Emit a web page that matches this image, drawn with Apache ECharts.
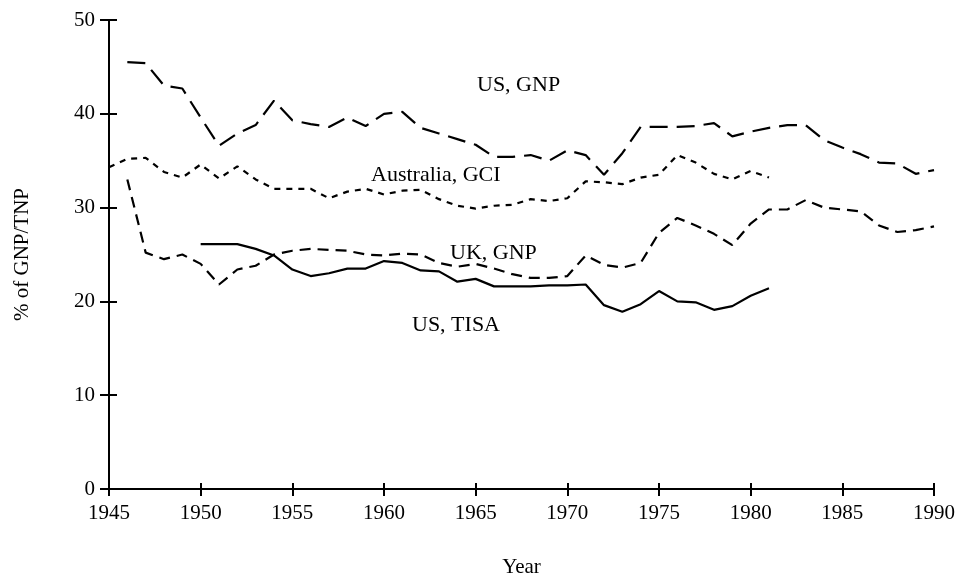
<!DOCTYPE html>
<html>
<head>
<meta charset="utf-8">
<script src="https://cdn.jsdelivr.net/npm/echarts@6/dist/echarts.min.js"></script>
<style>
  html, body { margin: 0; padding: 0; background: #fff; }
  #main { width: 958px; height: 583px; }
</style>
</head>
<body>
<div id="main"></div>
<script>
// years on the x axis
var years = [1945, 1946, 1947, 1948, 1949, 1950, 1951, 1952, 1953, 1954,
  1955, 1956, 1957, 1958, 1959, 1960, 1961, 1962, 1963, 1964,
  1965, 1966, 1967, 1968, 1969, 1970, 1971, 1972, 1973, 1974,
  1975, 1976, 1977, 1978, 1979, 1980, 1981, 1982, 1983, 1984,
  1985, 1986, 1987, 1988, 1989, 1990];

var usGnp = [null, 45.5, 45.4, 43.0, 42.7, 39.6, 36.6, 37.9, 38.8, 41.4,
  39.3, 38.9, 38.6, 39.6, 38.7, 40.0, 40.2, 38.5, 37.9, 37.3,
  36.7, 35.4, 35.4, 35.6, 35.0, 36.1, 35.6, 33.5, 35.8, 38.6,
  38.6, 38.6, 38.7, 39.0, 37.6, 38.1, 38.5, 38.8, 38.8, 37.2,
  36.4, 35.7, 34.8, 34.7, 33.6, 34.0];

var australiaGci = [34.3, 35.2, 35.3, 33.8, 33.2, 34.6, 33.1, 34.4, 33.0, 32.0,
  32.0, 32.0, 31.0, 31.7, 32.0, 31.4, 31.8, 31.9, 30.9, 30.2,
  29.9, 30.2, 30.3, 30.9, 30.7, 31.0, 32.8, 32.7, 32.5, 33.2,
  33.5, 35.6, 34.8, 33.6, 33.0, 33.9, 33.2, null, null, null,
  null, null, null, null, null, null];

var ukGnp = [null, 33.0, 25.2, 24.5, 25.0, 24.0, 21.8, 23.4, 23.8, 25.0,
  25.4, 25.6, 25.5, 25.4, 25.0, 24.9, 25.1, 25.0, 24.1, 23.7,
  24.0, 23.5, 22.9, 22.5, 22.5, 22.7, 24.9, 23.9, 23.6, 24.1,
  27.3, 28.9, 28.1, 27.2, 26.0, 28.3, 29.8, 29.8, 30.8, 30.0,
  29.8, 29.6, 28.1, 27.4, 27.6, 28.0];

var usTisa = [null, null, null, null, null, 26.1, 26.1, 26.1, 25.6, 24.9,
  23.4, 22.7, 23.0, 23.5, 23.5, 24.3, 24.1, 23.3, 23.2, 22.1,
  22.4, 21.6, 21.6, 21.6, 21.7, 21.7, 21.8, 19.6, 18.9, 19.7,
  21.1, 20.0, 19.9, 19.1, 19.5, 20.6, 21.4, null, null, null,
  null, null, null, null, null, null];

var yTicks = [0, 10, 20, 30, 40, 50];

var font = '"Liberation Serif", "DejaVu Serif", serif';

function pairs(values) {
  var out = [];
  for (var i = 0; i < years.length; i++) {
    if (values[i] !== null) out.push([years[i], values[i]]);
  }
  return out;
}

function lineSeries(name, values, dash) {
  return {
    name: name,
    type: 'line',
    xAxisIndex: 0,
    yAxisIndex: 0,
    symbol: 'none',
    smooth: false,
    lineStyle: { color: '#000', width: 2.2, type: dash },
    data: pairs(values)
  };
}

var chart = echarts.init(document.getElementById('main'));

var option = {
  animation: false,
  backgroundColor: '#fff',
  textStyle: { fontFamily: font },
  grid: { left: 109, right: 14, top: 20, bottom: 80 },
  xAxis: [{
    type: 'value',
    min: 1945,
    max: 1990,
    interval: 5,
    name: 'Year',
    nameLocation: 'middle',
    nameGap: 68,
    nameTextStyle: { fontFamily: font, fontSize: 21, color: '#000' },
    axisLine: { lineStyle: { color: '#000', width: 2 } },
    axisTick: { length: 7, lineStyle: { color: '#000', width: 2 } },
    axisLabel: {
      margin: 14, fontFamily: font, fontSize: 21, color: '#000',
      formatter: function (v) { return String(v); }
    },
    splitLine: { show: false }
  }, {
    type: 'value',
    position: 'bottom',
    min: 1945,
    max: 1990,
    interval: 5,
    axisLine: { show: false },
    axisTick: { inside: true, length: 6, lineStyle: { color: '#000', width: 2 } },
    axisLabel: { show: false },
    splitLine: { show: false }
  }],
  yAxis: [{
    type: 'value',
    min: yTicks[0],
    max: yTicks[yTicks.length - 1],
    interval: 10,
    name: '% of GNP/TNP',
    nameLocation: 'middle',
    nameGap: 76,
    nameRotate: 90,
    nameTextStyle: { fontFamily: font, fontSize: 21, color: '#000' },
    axisLine: { show: true, lineStyle: { color: '#000', width: 2 } },
    axisTick: { show: true, length: 9, lineStyle: { color: '#000', width: 2 } },
    axisLabel: { margin: 14, fontFamily: font, fontSize: 21, color: '#000' },
    splitLine: { show: false }
  }, {
    type: 'value',
    position: 'left',
    min: yTicks[0],
    max: yTicks[yTicks.length - 1],
    interval: 10,
    axisLine: { show: false },
    axisTick: { show: true, inside: true, length: 8, lineStyle: { color: '#000', width: 2 } },
    axisLabel: { show: false },
    splitLine: { show: false }
  }],
  graphic: [
    { type: 'text', left: 477, top: 74, style: { text: 'US, GNP', fontFamily: font, fontSize: 22, fill: '#000' } },
    { type: 'text', left: 371, top: 164, style: { text: 'Australia, GCI', fontFamily: font, fontSize: 22, fill: '#000' } },
    { type: 'text', left: 450, top: 242, style: { text: 'UK, GNP', fontFamily: font, fontSize: 22, fill: '#000' } },
    { type: 'text', left: 412, top: 314, style: { text: 'US, TISA', fontFamily: font, fontSize: 22, fill: '#000' } }
  ],
  series: [
    lineSeries('US, GNP', usGnp, [18, 9]),
    lineSeries('Australia, GCI', australiaGci, [6, 6]),
    lineSeries('UK, GNP', ukGnp, [11, 7]),
    lineSeries('US, TISA', usTisa, 'solid')
  ]
};

chart.setOption(option);
</script>
</body>
</html>
